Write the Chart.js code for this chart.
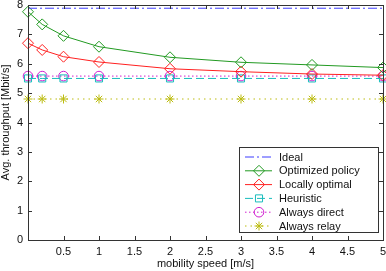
<!DOCTYPE html>
<html lang="en">
<head>
    <meta charset="UTF-8">
    <title>Avg. throughput vs mobility speed</title>
    <script src="https://cdn.jsdelivr.net/npm/chart.js"></script>
    <style>
        body { margin: 0; background: #fff; }
    </style>
</head>
<body>
    <canvas id="tputChart" width="386" height="271"></canvas>
    <script>
        // mobility speed [m/s]
        const speeds = [0, 0.2, 0.5, 1, 2, 3, 4, 5];

        const ideal     = [7.89, 7.89, 7.89, 7.89, 7.89, 7.89, 7.89, 7.89];
        const optimized = [7.77, 7.34, 6.95, 6.58, 6.22, 6.05, 5.96, 5.87];
        const localOpt  = [6.70, 6.47, 6.24, 6.06, 5.83, 5.73, 5.65, 5.61];
        const heuristic = [5.50, 5.50, 5.50, 5.50, 5.50, 5.50, 5.50, 5.50];
        const direct    = [5.58, 5.58, 5.58, 5.58, 5.58, 5.58, 5.58, 5.58];
        const relay     = [4.80, 4.80, 4.80, 4.80, 4.80, 4.80, 4.80, 4.80];

        const labels = ['Ideal', 'Optimized policy', 'Locally optimal', 'Heuristic', 'Always direct', 'Always relay'];

        const FONT = { family: "'Liberation Sans', Arial, sans-serif", size: 11, lineHeight: 1 };

        function pts(ys) {
            return speeds.map((x, i) => ({ x: x, y: ys[i] }));
        }

        // MATLAB-ish box: frame + inward ticks on all four sides
        const boxPlugin = {
            id: 'box',
            afterDatasetsDraw(chart) {
                const { ctx, chartArea: a, scales } = chart;
                ctx.save();
                ctx.strokeStyle = '#333';
                ctx.lineWidth = 1;
                ctx.beginPath();
                scales.x.ticks.forEach(t => {
                    const px = Math.round(scales.x.getPixelForValue(t.value)) + 0.5;
                    ctx.moveTo(px, a.bottom); ctx.lineTo(px, a.bottom - 4);
                    ctx.moveTo(px, a.top); ctx.lineTo(px, a.top + 4);
                });
                scales.y.ticks.forEach(t => {
                    const py = Math.round(scales.y.getPixelForValue(t.value)) + 0.5;
                    ctx.moveTo(a.left, py); ctx.lineTo(a.left + 4, py);
                    ctx.moveTo(a.right, py); ctx.lineTo(a.right - 4, py);
                });
                ctx.stroke();
                ctx.strokeRect(Math.round(a.left) + 0.5, Math.round(a.top) + 0.5,
                               Math.round(a.right - a.left), Math.round(a.bottom - a.top));
                ctx.restore();
            }
        };

        // legend box in lower right, line sample with marker in the middle
        const legendPlugin = {
            id: 'matLegend',
            afterDraw(chart) {
                const ctx = chart.ctx;
                const a = chart.chartArea;
                const bx = a.right - 144, by = a.bottom - 93, bw = 139, bh = 85;
                ctx.save();
                ctx.fillStyle = '#fff';
                ctx.fillRect(bx, by, bw, bh);
                ctx.strokeStyle = '#333';
                ctx.lineWidth = 1;
                ctx.strokeRect(bx + 0.5, by + 0.5, bw, bh);
                ctx.font = "11px 'Liberation Sans', Arial, sans-serif";
                ctx.textBaseline = 'middle';
                chart.data.datasets.forEach((ds, i) => {
                    const y = by + 10 + i * 13.8;
                    ctx.strokeStyle = ds.borderColor;
                    ctx.lineWidth = ds.borderWidth;
                    ctx.setLineDash(ds.borderDash || []);
                    ctx.beginPath();
                    ctx.moveTo(bx + 6, y); ctx.lineTo(bx + 33, y);
                    ctx.stroke();
                    ctx.setLineDash([]);
                    if (ds.pointRadius > 0) {
                        ctx.fillStyle = 'rgba(0,0,0,0)';
                        Chart.helpers.drawPoint(ctx, {
                            pointStyle: ds.pointStyle, rotation: 0,
                            radius: ds.pointRadius, borderWidth: 1
                        }, bx + 20, y);
                    }
                    ctx.fillStyle = '#111';
                    ctx.fillText(ds.label, bx + 40, y + 0.5);
                });
                ctx.restore();
            }
        };

        function series(label, ys, color, style, radius, dash) {
            return {
                label: label,
                data: pts(ys),
                borderColor: color,
                backgroundColor: 'rgba(0,0,0,0)',
                borderWidth: 1,
                borderDash: dash,
                pointStyle: style,
                pointRadius: radius,
                pointBorderColor: color,
                pointBackgroundColor: 'rgba(0,0,0,0)',
                pointBorderWidth: 1,
                tension: 0,
                clip: false
            };
        }

        const ctx = document.getElementById('tputChart').getContext('2d');
        new Chart(ctx, {
            type: 'line',
            data: {
                datasets: [
                    series(labels[0], ideal, '#3d3dff', false, 0, [9, 3, 2, 3]),
                    series(labels[1], optimized, '#229a22', 'rectRot', 5.5, []),
                    series(labels[2], localOpt, '#ff2020', 'rectRot', 5.5, []),
                    series(labels[3], heuristic, '#18bcbc', 'rect', 5, [8, 4]),
                    series(labels[4], direct, '#d020d0', 'circle', 4.8, [1.5, 2.5]),
                    series(labels[5], relay, '#bcbc10', 'star', 4.5, [1.5, 4])
                ]
            },
            options: {
                responsive: false,
                animation: false,
                layout: { autoPadding: false, padding: { top: 5, right: 3, left: 0, bottom: 0 } },
                plugins: {
                    legend: { display: false },
                    tooltip: { enabled: false }
                },
                scales: {
                    x: {
                        type: 'linear',
                        min: 0,
                        max: 5,
                        grid: { display: false, drawTicks: false },
                        border: { display: false },
                        ticks: {
                            stepSize: 0.5,
                            padding: 6,
                            color: '#111',
                            font: FONT,
                            maxRotation: 0,
                            callback: v => v === 0 ? '' : String(v)
                        },
                        title: {
                            display: true,
                            text: 'mobility speed [m/s]',
                            color: '#111',
                            font: { family: FONT.family, size: 11, lineHeight: 1.2 },
                            padding: 0
                        },
                        afterFit(scale) {
                            scale.height = 31;
                            scale.paddingLeft = 0;
                            scale.paddingRight = 0;
                        }
                    },
                    y: {
                        min: 0,
                        max: 8,
                        grid: { display: false, drawTicks: false },
                        border: { display: false },
                        ticks: {
                            stepSize: 1,
                            padding: 5,
                            color: '#111',
                            font: FONT
                        },
                        title: {
                            display: true,
                            text: 'Avg. throughput [Mbit/s]',
                            color: '#111',
                            font: FONT,
                            padding: 0
                        },
                        afterFit(scale) {
                            scale.width = 28;
                            scale.paddingTop = 0;
                            scale.paddingBottom = 0;
                        }
                    }
                }
            },
            plugins: [boxPlugin, legendPlugin]
        });
    </script>
</body>
</html>
